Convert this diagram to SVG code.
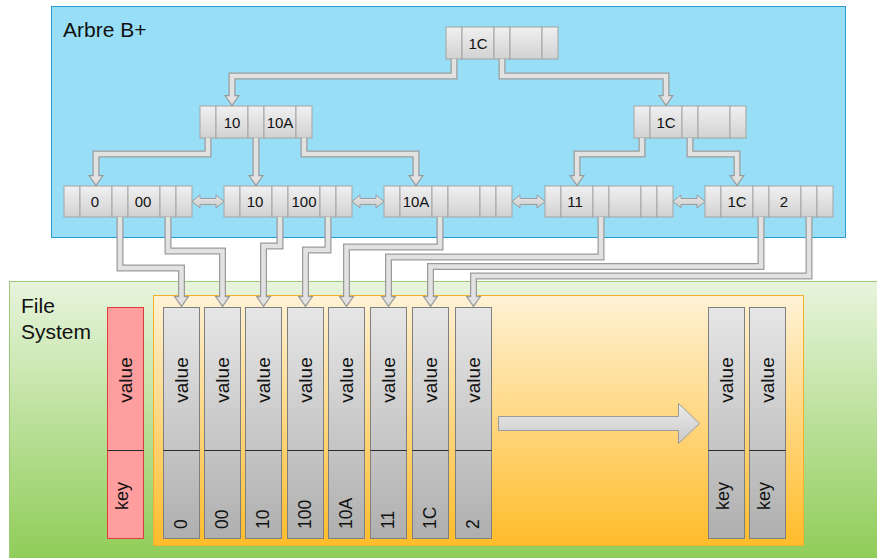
<svg xmlns="http://www.w3.org/2000/svg" xmlns:xlink="http://www.w3.org/1999/xlink" width="877" height="558" viewBox="0 0 877 558">
<defs>
<linearGradient id="gCell" x1="0" y1="0" x2="0" y2="1"><stop offset="0" stop-color="#F0F0F0"/><stop offset="1" stop-color="#D2D2D2"/></linearGradient>
<linearGradient id="gCol" x1="0" y1="0" x2="0" y2="1"><stop offset="0" stop-color="#E6E6E6"/><stop offset="1" stop-color="#AFAFAF"/></linearGradient>
<linearGradient id="gArr" x1="0" y1="0" x2="0" y2="1"><stop offset="0" stop-color="#EBEBEB"/><stop offset="1" stop-color="#C9C9C9"/></linearGradient>
<linearGradient id="gGreen" x1="0" y1="0" x2="0" y2="1"><stop offset="0" stop-color="#E8F4DD"/><stop offset="1" stop-color="#8BCB52"/></linearGradient>
<linearGradient id="gOrange" x1="0" y1="0" x2="0" y2="1"><stop offset="0" stop-color="#FFF2D6"/><stop offset="1" stop-color="#FFBC2A"/></linearGradient>
<g id="nodeT">
<rect class="cell" x="0" y="0" width="16" height="32"/><rect class="cell" x="16" y="0" width="32" height="32"/><rect class="cell" x="48" y="0" width="16" height="32"/><rect class="cell" x="64" y="0" width="32" height="32"/><rect class="cell" x="96" y="0" width="16" height="32"/>
</g>
<g id="leafT">
<rect class="cell" x="0" y="0" width="16" height="31"/><rect class="cell" x="16" y="0" width="32" height="31"/><rect class="cell" x="48" y="0" width="16" height="31"/><rect class="cell" x="64" y="0" width="32" height="31"/><rect class="cell" x="96" y="0" width="16" height="31"/><rect class="cell" x="112" y="0" width="16" height="31"/>
</g>
<g id="colT">
<rect class="col" x="0" y="0" width="36" height="231"/><line class="div" x1="0" y1="143" x2="36" y2="143"/>
</g>
<polygon id="ahO" points="-8,-11 8,-11 0,0.5" fill="#9B9B9B"/>
<polygon id="ahI" points="-5.7,-9.8 5.7,-9.8 0,-1.8" fill="#E2E2E2"/>
</defs>
<style>
.cell{fill:url(#gCell);stroke:#A3A3A3;stroke-width:1}
.col{fill:url(#gCol);stroke:#7F7F7F;stroke-width:1}
.div{stroke:#2A2A2A;stroke-width:1.2}
.t{font-family:"Liberation Sans",Arial,sans-serif;font-size:15px;fill:#111;text-anchor:middle}
.v{font-family:"Liberation Sans",Arial,sans-serif;font-size:19px;fill:#111;text-anchor:middle}
.ky{font-family:"Liberation Sans",Arial,sans-serif;font-size:18px;fill:#111;text-anchor:middle}
.k{font-family:"Liberation Sans",Arial,sans-serif;font-size:17.5px;fill:#111;text-anchor:start}
.h{font-family:"Liberation Sans",Arial,sans-serif;font-size:21px;fill:#111}
.o{fill:none;stroke:#9B9B9B;stroke-width:7}
.i{fill:none;stroke:#E2E2E2;stroke-width:4.5}
.dbl{fill:url(#gArr);stroke:#9B9B9B;stroke-width:1}
</style>

<g id="bg">
<rect x="9.5" y="281.5" width="880" height="290" fill="url(#gGreen)" stroke="#9CCB73"/>
<rect x="51.5" y="6.5" width="794" height="231" fill="#97DEF6" stroke="#2C9BD0"/>
<text class="h" x="63" y="37">Arbre B+</text>
<text class="h" x="21" y="313">File</text>
<text class="h" x="21" y="339">System</text>
<rect x="153.5" y="295.5" width="650" height="250" fill="url(#gOrange)" stroke="#F0B02E"/>
</g>

<g id="root"><use href="#nodeT" x="446" y="27"/><text class="t" x="478" y="48.5">1C</text></g>
<g id="n-left"><use href="#nodeT" x="200" y="106"/><text class="t" x="232" y="127.5">10</text><text class="t" x="280" y="127.5">10A</text></g>
<g id="n-right"><use href="#nodeT" x="634" y="106"/><text class="t" x="666" y="127.5">1C</text></g>

<g id="leaf1"><use href="#leafT" x="64" y="186"/><text class="t" x="95" y="206.5">0</text><text class="t" x="143" y="206.5">00</text></g>
<g id="leaf2"><use href="#leafT" x="224" y="186"/><text class="t" x="255" y="206.5">10</text><text class="t" x="304" y="206.5">100</text></g>
<g id="leaf3"><use href="#leafT" x="384" y="186"/><text class="t" x="416" y="206.5">10A</text></g>
<g id="leaf4"><use href="#leafT" x="545" y="186"/><text class="t" x="575" y="206.5">11</text></g>
<g id="leaf5"><use href="#leafT" x="705" y="186"/><text class="t" x="737" y="206.5">1C</text><text class="t" x="784" y="206.5">2</text></g>

<g id="legend">
<rect x="107.5" y="307.5" width="36" height="231" fill="#FF9E9E" stroke="#E03C3C"/>
<line class="div" x1="107.5" y1="450.5" x2="143.5" y2="450.5"/>
<text class="v" transform="translate(131.5,380) rotate(-90)">value</text>
<text class="ky" transform="translate(127.5,496) rotate(-90)">key</text>
</g>

<g id="col0"><use href="#colT" x="163.5" y="307.5"/><text class="v" transform="translate(187.5,380) rotate(-90)">value</text><text class="k" transform="translate(186.5,529) rotate(-90)">0</text></g>
<g id="col00"><use href="#colT" x="204.5" y="307.5"/><text class="v" transform="translate(228.5,380) rotate(-90)">value</text><text class="k" transform="translate(227.5,529) rotate(-90)">00</text></g>
<g id="col10"><use href="#colT" x="245.5" y="307.5"/><text class="v" transform="translate(269.5,380) rotate(-90)">value</text><text class="k" transform="translate(268.5,529) rotate(-90)">10</text></g>
<g id="col100"><use href="#colT" x="287.5" y="307.5"/><text class="v" transform="translate(311.5,380) rotate(-90)">value</text><text class="k" transform="translate(310.5,529) rotate(-90)">100</text></g>
<g id="col10A"><use href="#colT" x="328.5" y="307.5"/><text class="v" transform="translate(352.5,380) rotate(-90)">value</text><text class="k" transform="translate(351.5,529) rotate(-90)">10A</text></g>
<g id="col11"><use href="#colT" x="370.5" y="307.5"/><text class="v" transform="translate(394.5,380) rotate(-90)">value</text><text class="k" transform="translate(393.5,529) rotate(-90)">11</text></g>
<g id="col1C"><use href="#colT" x="412.5" y="307.5"/><text class="v" transform="translate(436.5,380) rotate(-90)">value</text><text class="k" transform="translate(435.5,529) rotate(-90)">1C</text></g>
<g id="col2"><use href="#colT" x="455.5" y="307.5"/><text class="v" transform="translate(479.5,380) rotate(-90)">value</text><text class="k" transform="translate(478.5,529) rotate(-90)">2</text></g>
<g id="colA"><use href="#colT" x="708.5" y="307.5"/><text class="v" transform="translate(732.5,380) rotate(-90)">value</text><text class="ky" transform="translate(728.5,496) rotate(-90)">key</text></g>
<g id="colB"><use href="#colT" x="749.5" y="307.5"/><text class="v" transform="translate(773.5,380) rotate(-90)">value</text><text class="ky" transform="translate(769.5,496) rotate(-90)">key</text></g>

<g id="big-arrow">
<polygon class="dbl" points="498.5,416.5 678.5,416.5 678.5,403.5 699.5,423.5 678.5,443.5 678.5,430.5 498.5,430.5"/>
</g>

<g id="connectors">
<polygon class="dbl" points="192,201.5 200,195 200,198.5 216,198.5 216,195 224,201.5 216,208 216,204.5 200,204.5 200,208"/>
<polygon class="dbl" points="352,201.5 360,195 360,198.5 376,198.5 376,195 384,201.5 376,208 376,204.5 360,204.5 360,208"/>
<polygon class="dbl" points="512,201.5 520,195 520,198.5 537,198.5 537,195 545,201.5 537,208 537,204.5 520,204.5 520,208"/>
<polygon class="dbl" points="673,201.5 681,195 681,198.5 697,198.5 697,195 705,201.5 697,208 697,204.5 681,204.5 681,208"/>

<g><path class="o" d="M454,59 V76 H232 V100"/><use href="#ahO" x="232" y="106"/><path class="i" d="M454,59 V76 H232 V100"/><use href="#ahI" x="232" y="106"/></g>
<g><path class="o" d="M502,59 V76 H666 V100"/><use href="#ahO" x="666" y="106"/><path class="i" d="M502,59 V76 H666 V100"/><use href="#ahI" x="666" y="106"/></g>

<g><path class="o" d="M208,138 V154 H96 V180"/><use href="#ahO" x="96" y="186"/><path class="i" d="M208,138 V154 H96 V180"/><use href="#ahI" x="96" y="186"/></g>
<g><path class="o" d="M256,138 V180"/><use href="#ahO" x="256" y="186"/><path class="i" d="M256,138 V180"/><use href="#ahI" x="256" y="186"/></g>
<g><path class="o" d="M304,138 V154 H416 V180"/><use href="#ahO" x="416" y="186"/><path class="i" d="M304,138 V154 H416 V180"/><use href="#ahI" x="416" y="186"/></g>
<g><path class="o" d="M642,138 V154 H577 V180"/><use href="#ahO" x="577" y="186"/><path class="i" d="M642,138 V154 H577 V180"/><use href="#ahI" x="577" y="186"/></g>
<g><path class="o" d="M690,138 V154 H737 V180"/><use href="#ahO" x="737" y="186"/><path class="i" d="M690,138 V154 H737 V180"/><use href="#ahI" x="737" y="186"/></g>

<g><path class="o" d="M120,217 V268 H181.5 V301"/><use href="#ahO" x="181.5" y="307"/><path class="i" d="M120,217 V268 H181.5 V301"/><use href="#ahI" x="181.5" y="307"/></g>
<g><path class="o" d="M168,217 V251 H222.5 V301"/><use href="#ahO" x="222.5" y="307"/><path class="i" d="M168,217 V251 H222.5 V301"/><use href="#ahI" x="222.5" y="307"/></g>
<g><path class="o" d="M280,217 V246 H263.5 V301"/><use href="#ahO" x="263.5" y="307"/><path class="i" d="M280,217 V246 H263.5 V301"/><use href="#ahI" x="263.5" y="307"/></g>
<g><path class="o" d="M328,217 V250 H305.5 V301"/><use href="#ahO" x="305.5" y="307"/><path class="i" d="M328,217 V250 H305.5 V301"/><use href="#ahI" x="305.5" y="307"/></g>
<g><path class="o" d="M440,217 V247 H346.5 V301"/><use href="#ahO" x="346.5" y="307"/><path class="i" d="M440,217 V247 H346.5 V301"/><use href="#ahI" x="346.5" y="307"/></g>
<g><path class="o" d="M601,217 V257 H388.5 V301"/><use href="#ahO" x="388.5" y="307"/><path class="i" d="M601,217 V257 H388.5 V301"/><use href="#ahI" x="388.5" y="307"/></g>
<g><path class="o" d="M761,217 V266.5 H430.5 V301"/><use href="#ahO" x="430.5" y="307"/><path class="i" d="M761,217 V266.5 H430.5 V301"/><use href="#ahI" x="430.5" y="307"/></g>
<g><path class="o" d="M809,217 V276 H473.5 V301"/><use href="#ahO" x="473.5" y="307"/><path class="i" d="M809,217 V276 H473.5 V301"/><use href="#ahI" x="473.5" y="307"/></g>
</g>
</svg>
